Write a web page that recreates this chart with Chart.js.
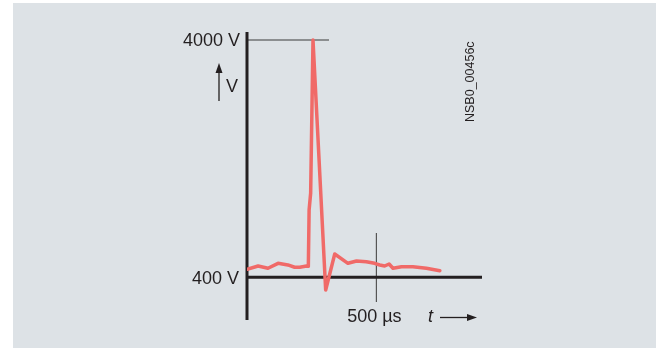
<!DOCTYPE html>
<html>
<head>
<meta charset="utf-8">
<script src="https://cdn.jsdelivr.net/npm/chart.js@4"></script>
<style>
  html, body { margin: 0; padding: 0; background: #fff; }
  #wrap { width: 656px; height: 348px; }
</style>
</head>
<body>
<div id="wrap"><canvas id="chart1" width="656" height="348"></canvas></div>
<script>
// surge voltage trace, time in us, voltage in V
var times = [0, 43, 81, 120, 158, 184, 204, 230, 237, 240, 246, 255, 304, 339, 390, 423, 461, 493, 513, 532, 549, 564, 597, 641, 693, 745];
var volts = [521, 571, 537, 612, 587, 552, 552, 571, 566, 1421, 1679, 4000, 207, 753, 612, 647, 637, 612, 587, 571, 602, 537, 561, 561, 537, 500];

var yTicks = [400, 4000];
var xTicks = [500];
var yUnit = 'V';
var xUnit = 'µs';
var docCode = 'NSB0_00456c';

var points = times.map(function (t, i) { return { x: t, y: volts[i] }; });

var FONT = '"Liberation Sans", Arial, sans-serif';
var INK = '#231f20';

function arrowHead(ctx, x, y, dir) {
  // dir: 'up' or 'right', (x,y) = tip
  ctx.beginPath();
  if (dir === 'up') {
    ctx.moveTo(x, y);
    ctx.lineTo(x - 3.5, y + 10);
    ctx.lineTo(x + 3.5, y + 10);
  } else {
    ctx.moveTo(x, y);
    ctx.lineTo(x - 10, y - 3.5);
    ctx.lineTo(x - 10, y + 3.5);
  }
  ctx.closePath();
  ctx.fill();
}

// background panel + axes + labels
var diagramPlugin = {
  id: 'diagram',
  beforeDraw: function (chart) {
    var ctx = chart.ctx;
    ctx.save();
    ctx.fillStyle = '#dde2e6';
    ctx.fillRect(13, 3, chart.width - 13, chart.height - 3);
    ctx.restore();
  },
  beforeDatasetsDraw: function (chart) {
    var ctx = chart.ctx;
    var xs = chart.scales.x, ys = chart.scales.y;
    var x0 = xs.getPixelForValue(0);
    var yLow = ys.getPixelForValue(yTicks[0]);
    var yHigh = ys.getPixelForValue(yTicks[1]);
    var xMark = xs.getPixelForValue(xTicks[0]);
    ctx.save();

    // thin line at 4000 V
    ctx.strokeStyle = '#3a3a3a';
    ctx.lineWidth = 1.2;
    ctx.beginPath();
    ctx.moveTo(x0, yHigh);
    ctx.lineTo(x0 + 82, yHigh);
    ctx.stroke();

    // 500 us marker
    ctx.strokeStyle = '#555';
    ctx.lineWidth = 1.2;
    ctx.beginPath();
    ctx.moveTo(xMark, 233);
    ctx.lineTo(xMark, 302);
    ctx.stroke();

    // main axes
    ctx.strokeStyle = INK;
    ctx.lineWidth = 3;
    ctx.beginPath();
    ctx.moveTo(x0, 32);
    ctx.lineTo(x0, 320);
    ctx.moveTo(x0, yLow);
    ctx.lineTo(chart.chartArea.right, yLow);
    ctx.stroke();

    // tick labels
    ctx.fillStyle = INK;
    ctx.font = '18px ' + FONT;
    ctx.textBaseline = 'middle';
    ctx.textAlign = 'right';
    ctx.fillText(yTicks[1] + ' ' + yUnit, x0 - 7, yHigh + 1);
    ctx.fillText(yTicks[0] + ' ' + yUnit, x0 - 8, yLow + 2);
    ctx.textAlign = 'center';
    ctx.textBaseline = 'alphabetic';
    ctx.fillText(xTicks[0] + ' ' + xUnit, xMark - 2, 322);

    // V with up arrow
    ctx.textAlign = 'left';
    ctx.fillText(yUnit, 226, 92);
    ctx.lineWidth = 1.3;
    ctx.beginPath();
    ctx.moveTo(219, 101);
    ctx.lineTo(219, 70);
    ctx.stroke();
    arrowHead(ctx, 219, 63, 'up');

    // t with right arrow
    ctx.font = 'italic 18px ' + FONT;
    ctx.fillText('t', 428, 322);
    ctx.beginPath();
    ctx.moveTo(440, 317.5);
    ctx.lineTo(469, 317.5);
    ctx.stroke();
    arrowHead(ctx, 477, 317.5, 'right');

    // document code, rotated
    ctx.translate(474, 122);
    ctx.rotate(-Math.PI / 2);
    ctx.font = '12.5px ' + FONT;
    ctx.textAlign = 'left';
    ctx.textBaseline = 'alphabetic';
    ctx.fillText(docCode, 0, 0);
    ctx.restore();
  }
};

var chart1El = document.getElementById('chart1');
new Chart(chart1El, {
  type: 'scatter',
  data: {
    datasets: [{
      label: 'Surge',
      data: points,
      showLine: true,
      borderColor: '#f06a68',
      borderWidth: 3.5,
      pointRadius: 0,
      tension: 0,
      borderJoinStyle: 'round',
      borderCapStyle: 'round'
    }]
  },
  options: {
    responsive: false,
    animation: false,
    layout: {
      padding: { left: 247, right: 174, top: 32, bottom: 28 }
    },
    plugins: {
      legend: { display: false },
      tooltip: { enabled: false }
    },
    scales: {
      x: { type: 'linear', display: false, min: 0, max: 908 },
      y: { type: 'linear', display: false, min: -248, max: 4121 }
    }
  },
  plugins: [diagramPlugin]
});
</script>
</body>
</html>
